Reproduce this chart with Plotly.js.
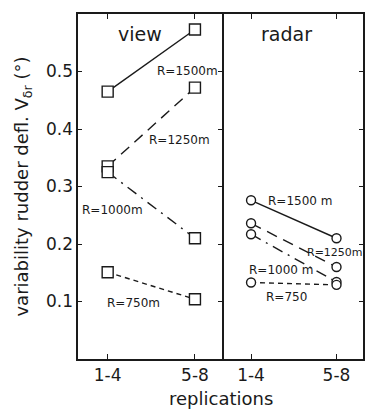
<!DOCTYPE html>
<html><head><meta charset="utf-8">
<script src="https://cdn.plot.ly/plotly-3.0.1.min.js"></script>
<style>body{margin:0;background:#fff}#c{width:366px;height:409px}</style>
</head><body><div id="c"></div>
<script>
const categories = ['1-4', '5-8'];
// view (squares)
const view1500 = [0.465, 0.573];
const view1250 = [0.335, 0.472];
const view1000 = [0.325, 0.210];
const view750  = [0.151, 0.104];
// radar (circles)
const radar1500 = [0.276, 0.210];
const radar1250 = [0.236, 0.160];
const radar1000 = [0.217, 0.134];
const radar750  = [0.133, 0.129];
const yTicks = [0.1, 0.2, 0.3, 0.4, 0.5];

const ink = '#1a1a1a';
const dashes = {s1500: 'solid', s1250: '11px,7px', s1000: '11px,6px,2px,6px', s750: '5px,4px'};

function tr(y, xa, ya, sym, dash, size) {
  return {x: categories, y: y, xaxis: xa, yaxis: ya, type: 'scatter', mode: 'lines+markers',
    line: {color: ink, width: 1.4, dash: dash},
    marker: {symbol: sym, size: size, color: '#fff', line: {color: ink, width: 1.4}},
    showlegend: false, hoverinfo: 'skip'};
}
const data = [
  tr(view1500, 'x', 'y', 'square', dashes.s1500, 11),
  tr(view1250, 'x', 'y', 'square', dashes.s1250, 11),
  tr(view1000, 'x', 'y', 'square', dashes.s1000, 11),
  tr(view750,  'x', 'y', 'square', dashes.s750, 11),
  tr(radar1500, 'x2', 'y2', 'circle', dashes.s1500, 9),
  tr(radar1250, 'x2', 'y2', 'circle', dashes.s1250, 9),
  tr(radar1000, 'x2', 'y2', 'circle', dashes.s1000, 9),
  tr(radar750,  'x2', 'y2', 'circle', dashes.s750, 9)
];

const fam = 'DejaVu Sans, sans-serif';
const xbase = {type: 'category', range: [-0.34, 1.31], showline: true, linecolor: ink, linewidth: 1.6,
  mirror: 'ticks', ticks: 'inside', ticklen: 5, tickcolor: ink, showgrid: false, zeroline: false,
  tickfont: {family: fam, size: 17, color: ink}, fixedrange: true};
const ybase = {range: [0, 0.6], tickvals: yTicks, ticktext: yTicks.map(v => v.toFixed(1)),
  showline: true, linecolor: ink, linewidth: 1.6, ticks: 'inside', ticklen: 4,
  tickcolor: ink, showgrid: false, zeroline: false, fixedrange: true,
  tickfont: {family: fam, size: 17, color: ink}};
const d = 144 / 285;

function lab(text, x, y, xref, yref, size) {
  return {text: text, x: x, y: y, xref: xref, yref: yref, showarrow: false,
    font: {family: fam, size: size, color: ink}};
}

const layout = {
  width: 366, height: 409, paper_bgcolor: '#fff', plot_bgcolor: '#fff',
  margin: {l: 78, r: 3, t: 14, b: 50},
  xaxis: Object.assign({}, xbase, {domain: [0, d], anchor: 'y'}),
  xaxis2: Object.assign({}, xbase, {domain: [d, 1], anchor: 'y2'}),
  yaxis: Object.assign({}, ybase, {anchor: 'x', mirror: 'ticks',
    title: {text: 'variability rudder defl. V<sub>δr</sub> (°)', font: {family: fam, size: 18, color: ink}, standoff: 12}}),
  yaxis2: Object.assign({}, ybase, {anchor: 'x2', matches: 'y', side: 'right', showticklabels: false}),
  annotations: [
    lab('view', 0.37, 0.565, 'x', 'y', 19),
    lab('radar', 0.42, 0.565, 'x2', 'y2', 19),
    lab('R=1500m', 0.92, 0.501, 'x', 'y', 12),
    lab('R=1250m', 0.82, 0.381, 'x', 'y', 12),
    lab('R=1000m', 0.05, 0.26, 'x', 'y', 12),
    lab('R=750m', 0.30, 0.097, 'x', 'y', 12),
    lab('R=1500 m', 0.57, 0.275, 'x2', 'y2', 12),
    lab('R=1250m', 0.985, 0.186, 'x2', 'y2', 11),
    lab('R=1000 m', 0.35, 0.155, 'x2', 'y2', 12),
    lab('R=750', 0.42, 0.107, 'x2', 'y2', 12),
    {text: 'replications', x: 0.5, y: -0.115, xref: 'paper', yref: 'paper', showarrow: false, yanchor: 'middle',
      font: {family: fam, size: 18, color: ink}}
  ]
};
Plotly.newPlot('c', data, layout, {staticPlot: true, displayModeBar: false});
</script></body></html>
